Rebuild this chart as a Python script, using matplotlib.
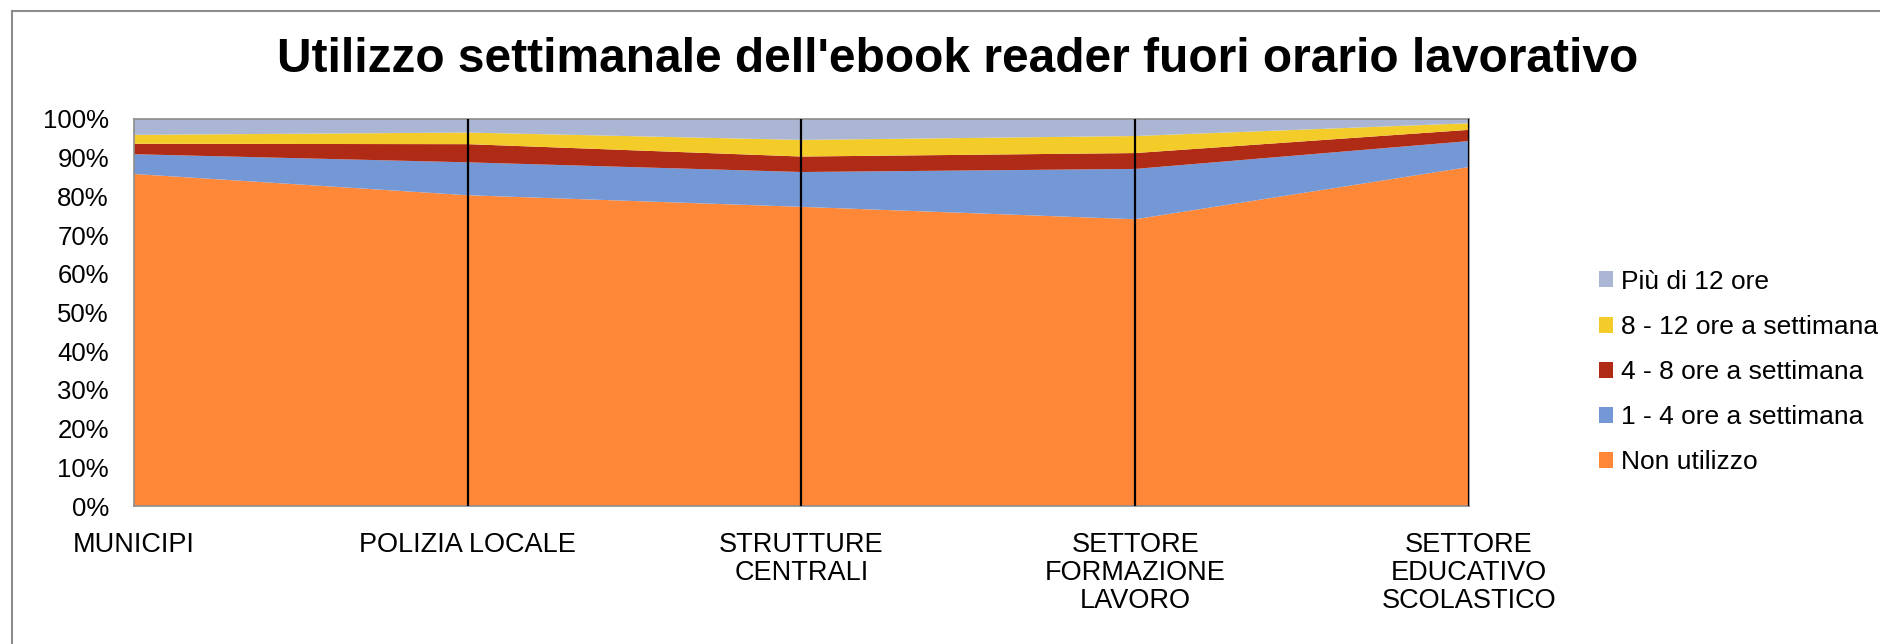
import matplotlib
matplotlib.use("Agg")
import matplotlib.pyplot as plt
import numpy as np
from matplotlib.lines import Line2D
from matplotlib.patches import Patch
from matplotlib import font_manager

CATEGORIES = ["MUNICIPI", "POLIZIA LOCALE", "STRUTTURE\nCENTRALI",
              "SETTORE\nFORMAZIONE\nLAVORO", "SETTORE\nEDUCATIVO\nSCOLASTICO"]

# percentages per category (bottom -> top)
NON_UTILIZZO = [85.8, 80.3, 77.3, 74.1, 87.6]
ORE_1_4 = [5.1, 8.5, 9.0, 13.0, 6.7]
ORE_4_8 = [2.7, 4.7, 4.0, 4.1, 2.9]
ORE_8_12 = [2.3, 3.0, 4.3, 4.4, 1.7]
PIU_12 = [4.1, 3.5, 5.4, 4.4, 1.1]

SERIES_NAMES = ["Non utilizzo", "1 - 4 ore a settimana", "4 - 8 ore a settimana",
                "8 - 12 ore a settimana", "Più di 12 ore"]
COLORS = ["#FF8838", "#7498D6", "#B02B16", "#F4CC2A", "#AAB6D3"]

TITLE = "Utilizzo settimanale dell'ebook reader fuori orario lavorativo"

plt.rcParams["font.family"] = ["Liberation Sans", "DejaVu Sans"]
names = {f.name for f in font_manager.fontManager.ttflist}
narrow = "Liberation Sans Narrow" if "Liberation Sans Narrow" in names else "Liberation Sans"

fig = plt.figure(figsize=(18.81, 6.44), dpi=100)
ax = fig.add_axes([134 / 1881, 1 - 506 / 644, (1469 - 134) / 1881, (506 - 119) / 644])

x = np.arange(len(CATEGORIES))
data = np.array([NON_UTILIZZO, ORE_1_4, ORE_4_8, ORE_8_12, PIU_12])
tot = data.sum(axis=0)
data = data / tot * 100
ax.stackplot(x, data, colors=COLORS, linewidth=0)

for xi in x[1:]:
    ax.axvline(xi, color="black", lw=1.6, zorder=3)

ax.set_xlim(0, len(CATEGORIES) - 1)
ax.set_ylim(0, 100)
ax.set_yticks(np.arange(0, 101, 10))
ax.set_yticklabels([f"{v}%" for v in range(0, 101, 10)], fontsize=18.5)
ax.set_xticks(x)
ax.set_xticklabels(CATEGORIES, fontsize=19.5, family=narrow, linespacing=1.1)
ax.tick_params(axis="both", length=0)
ax.tick_params(axis="y", pad=18)
ax.tick_params(axis="x", pad=19)
for s in ax.spines.values():
    s.set_color("#8c8c8c")
    s.set_linewidth(1.2)

fig.text(958 / 1881, 1 - 60 / 644, TITLE, ha="center", va="center",
         fontsize=34.5, fontweight="bold")

handles = [Patch(facecolor=c, edgecolor="none") for c in COLORS]
leg = fig.legend(handles[::-1], SERIES_NAMES[::-1], loc="center left",
                 bbox_to_anchor=(1575 / 1881, 1 - 372 / 644), frameon=False,
                 fontsize=19, handlelength=0.55, handleheight=0.55,
                 handletextpad=0.3, labelspacing=0.8)

# outer chart frame (top and left edges visible)
fig.add_artist(Line2D([12 / 1881, 1], [1 - 11 / 644, 1 - 11 / 644],
                      color="#8c8c8c", lw=1.5, transform=fig.transFigure))
fig.add_artist(Line2D([12 / 1881, 12 / 1881], [0, 1 - 11 / 644],
                      color="#8c8c8c", lw=1.5, transform=fig.transFigure))

fig.savefig("out.png", dpi=100)
